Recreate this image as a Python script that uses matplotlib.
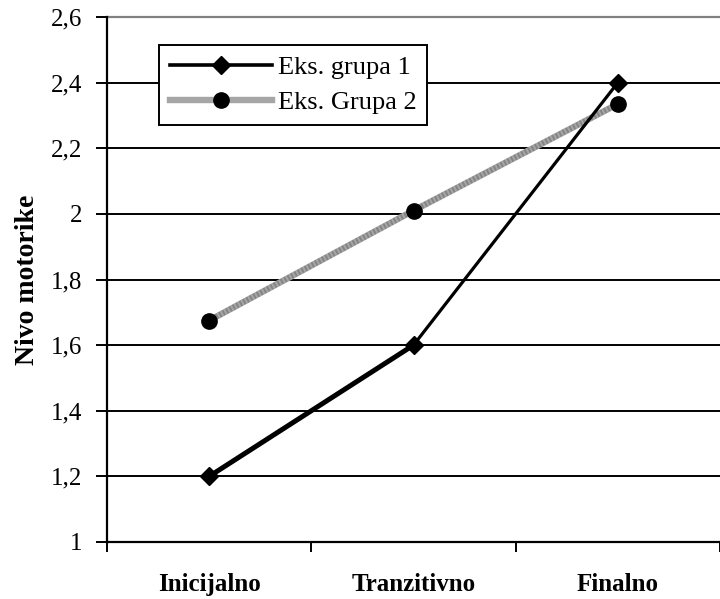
import matplotlib
matplotlib.use("Agg")
import matplotlib.pyplot as plt
import numpy as np

categories = ["Inicijalno", "Tranzitivno", "Finalno"]
grupa1 = [1.2, 1.6, 2.4]
grupa2 = [1.675, 2.01, 2.335]
yticks = [1.0, 1.2, 1.4, 1.6, 1.8, 2.0, 2.2, 2.4, 2.6]
ytick_labels = ["1", "1,2", "1,4", "1,6", "1,8", "2", "2,2", "2,4", "2,6"]

plt.rcParams['font.family'] = ['Liberation Serif', 'DejaVu Serif']

fig = plt.figure(figsize=(7.2, 5.99), dpi=100)
W, H = 720, 599
left, right, top, bottom = 107, 720, 17, 542
ax = fig.add_axes([left / W, 1 - bottom / H, (right - left) / W, (bottom - top) / H])

x = np.arange(len(categories))
ax.set_xlim(-0.5, -0.5 + (right - left) / 207.0)
ax.set_ylim(1.0, 2.6)

# gridlines
for yv in yticks[1:-1]:
    ax.axhline(yv, color='black', lw=1.4, zorder=1)
ax.axhline(2.6, color='#808080', lw=1.6, zorder=1, clip_on=False)

# group 2: textured gray line
ax.plot(x, grupa2, color='#a6a6a6', lw=4.6, zorder=3, solid_capstyle='butt')
ax.plot(x, grupa2, color='#6e6e6e', lw=4.0, zorder=3, linestyle=(0, (0.35, 0.35)), alpha=0.6)
ax.plot(x, grupa2, linestyle='none', marker='o', markersize=11, color='black', zorder=5)

# group 1: black line with diamonds
ax.plot(x[:2], grupa1[:2], color='black', lw=3.6, zorder=4, solid_capstyle='butt')
ax.plot(x[1:], grupa1[1:], color='black', lw=2.3, zorder=4, solid_capstyle='butt')
ax.plot(x, grupa1, linestyle='none', marker='D', markersize=9.5, color='black', zorder=6)

# legend handles
h1, = ax.plot([], [], color='black', lw=2.6, marker='D', markersize=9.5)
h2, = ax.plot([], [], color='#a6a6a6', lw=4.6, marker='o', markersize=11,
              markerfacecolor='black', markeredgecolor='black')
leg = ax.legend([h1, h2], ["Eks. grupa 1", "Eks. Grupa 2"],
                loc='upper left', bbox_to_anchor=(159 / W, 1 - 45 / H),
                bbox_transform=fig.transFigure, borderaxespad=0,
                fontsize=19, handlelength=3.9, handletextpad=0.2,
                labelspacing=0.45, borderpad=0.4, fancybox=False,
                framealpha=1, edgecolor='black', numpoints=1)
leg.get_frame().set_linewidth(1.4)
leg.set_zorder(10)

# axes styling
ax.spines['top'].set_visible(False)
ax.spines['right'].set_visible(False)
ax.spines['left'].set_linewidth(1.6)
ax.spines['bottom'].set_linewidth(1.6)

ax.set_yticks(yticks)
ax.set_yticklabels(ytick_labels, fontsize=18)
ax.tick_params(axis='y', direction='out', length=8, width=1.4, pad=10)

ax.set_xticks(x)
ax.set_xticklabels(categories, fontsize=18, fontweight='bold')
ax.tick_params(axis='x', which='major', length=0, pad=22)
ax.set_xticks(np.arange(-0.5, len(categories) + 0.5, 1.0), minor=True)
ax.tick_params(axis='x', which='minor', direction='out', length=7, width=1.4)

ax.set_ylabel("Nivo motorike", fontsize=20, fontweight='bold', labelpad=8)

fig.savefig("out.png", dpi=100)
